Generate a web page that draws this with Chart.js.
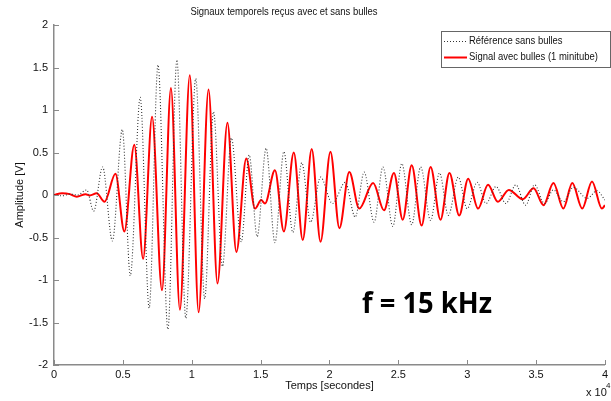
<!DOCTYPE html>
<html>
<head>
<meta charset="utf-8">
<script src="https://cdn.jsdelivr.net/npm/chart.js@4/dist/chart.umd.min.js"></script>
<style>
  html, body { margin: 0; padding: 0; background: #fff; }
  #wrap { width: 611px; height: 401px; }
</style>
</head>
<body>
<div id="wrap"><canvas id="chartSignaux" width="611" height="401"></canvas></div>
<script>
// Référence sans bulles : extrema (temps en x10^4)
var refX = [0, 0.058, 0.115, 0.173, 0.237, 0.288, 0.353, 0.424, 0.496, 0.554, 0.626, 0.691, 0.755, 0.827, 0.892, 0.957,
    1.029, 1.094, 1.158, 1.223, 1.288, 1.360, 1.417, 1.475, 1.540, 1.604, 1.669, 1.734, 1.799, 1.863, 1.935,
    2.022, 2.115, 2.187, 2.252, 2.324, 2.388, 2.460, 2.525, 2.597, 2.662, 2.734, 2.799, 2.863, 2.935,
    3.0, 3.072, 3.137, 3.209, 3.281, 3.353, 3.424, 3.489, 3.561, 3.626, 3.698, 3.770, 3.871, 3.942, 4.0];
var refY = [0, -0.01, 0.01, 0.0, 0.06, -0.19, 0.33, -0.54, 0.77, -0.95, 1.15, -1.33, 1.53, -1.58, 1.59, -1.45,
    1.37, -1.22, 0.98, -0.84, 0.67, -0.55, 0.47, -0.49, 0.55, -0.56, 0.51, -0.44, 0.38, -0.32, 0.21,
    -0.10, 0.15, -0.26, 0.27, -0.32, 0.33, -0.37, 0.37, -0.35, 0.33, -0.30, 0.26, -0.24, 0.21,
    -0.16, 0.15, -0.10, 0.10, -0.10, 0.12, -0.12, 0.12, -0.10, 0.06, -0.08, 0.09, -0.04, 0.05, -0.06];

// Signal avec bulles (1 minitube)
var sigX = [0, 0.058, 0.115, 0.165, 0.23, 0.26, 0.31, 0.367, 0.446, 0.511, 0.583, 0.647, 0.712, 0.784, 0.849, 0.914,
    0.986, 1.05, 1.122, 1.187, 1.259, 1.324, 1.396, 1.460, 1.504, 1.532, 1.604, 1.669, 1.741, 1.806, 1.871, 1.935,
    2.007, 2.072, 2.144, 2.216, 2.317, 2.396, 2.468, 2.532, 2.597, 2.669, 2.734, 2.806, 2.871, 2.942,
    3.007, 3.079, 3.151, 3.223, 3.302, 3.403, 3.482, 3.554, 3.626, 3.698, 3.763, 3.835, 3.906, 3.978, 4.0];
var sigY = [0, 0.02, 0.01, -0.02, 0.01, -0.005, 0.02, -0.08, 0.25, -0.43, 0.59, -0.75, 0.92, -1.12, 1.26, -1.35,
    1.41, -1.38, 1.24, -1.04, 0.85, -0.67, 0.43, -0.16, -0.06, -0.10, 0.29, -0.43, 0.50, -0.53, 0.54, -0.55,
    0.51, -0.39, 0.27, -0.16, 0.14, -0.18, 0.26, -0.29, 0.35, -0.36, 0.33, -0.29, 0.26, -0.24,
    0.19, -0.16, 0.12, -0.08, 0.06, -0.05, 0.08, -0.12, 0.14, -0.16, 0.14, -0.16, 0.16, -0.16, -0.12];

var labels = ["Référence sans bulles", "Signal avec bulles (1 minitube)"];
var titre = "Signaux temporels reçus avec et sans bulles";
var annotation = "f = 15 kHz";

var toPoints = function(xs, ys) {
    return xs.map(function(x, i) { return { x: x, y: ys[i] }; });
};

var axisGray = "#8a8a8a";
var font11 = { family: "'Liberation Sans', Arial, sans-serif", size: 11 };
// étiquettes façon MATLAB : 2, 1.5, 1 ... sans zéro final
var tickText = function(v) { return String(Math.round(v * 10) / 10); };

// textes, légende et graduations intérieures façon MATLAB
var decorPlugin = {
    id: "decor",
    afterDraw: function(chart) {
        var ctx = chart.ctx;
        var area = chart.chartArea;
        var sx = chart.scales.x, sy = chart.scales.y;
        ctx.save();

        // graduations vers l'intérieur
        ctx.strokeStyle = axisGray;
        ctx.lineWidth = 1;
        ctx.beginPath();
        sx.ticks.forEach(function(t) {
            var px = Math.round(sx.getPixelForValue(t.value)) + 0.5;
            ctx.moveTo(px, area.bottom);
            ctx.lineTo(px, area.bottom - 5);
        });
        sy.ticks.forEach(function(t) {
            var py = Math.round(sy.getPixelForValue(t.value)) + 0.5;
            ctx.moveTo(area.left, py);
            ctx.lineTo(area.left + 5, py);
        });
        ctx.stroke();

        // titre
        ctx.fillStyle = "#111";
        ctx.font = "11px 'Liberation Sans', Arial, sans-serif";
        ctx.textBaseline = "middle";
        ctx.textAlign = "center";
        ctx.save();
        ctx.translate(284, 12);
        ctx.scale(0.86, 1);
        ctx.fillText(titre, 0, 0);
        ctx.restore();

        // x 10^4
        ctx.textAlign = "left";
        ctx.fillText("x 10", 586, 393);
        ctx.font = "8px 'Liberation Sans', Arial, sans-serif";
        ctx.fillText("4", 606, 386);

        // légende
        var lx = 441, ly = 31, lw = 169, lh = 36;
        ctx.fillStyle = "#fff";
        ctx.fillRect(lx, ly, lw, lh);
        ctx.strokeStyle = "#666";
        ctx.lineWidth = 1;
        ctx.strokeRect(lx + 0.5, ly + 0.5, lw, lh);
        ctx.font = "11px 'Liberation Sans', Arial, sans-serif";
        ctx.fillStyle = "#111";
        chart.data.datasets.forEach(function(ds, i) {
            var yy = ly + 10 + i * 16;
            ctx.save();
            ctx.strokeStyle = ds.borderColor;
            ctx.lineWidth = ds.borderWidth;
            ctx.setLineDash(ds.borderDash || []);
            ctx.beginPath();
            ctx.moveTo(lx + 3, yy + 0.5);
            ctx.lineTo(lx + 26, yy + 0.5);
            ctx.stroke();
            ctx.restore();
            ctx.save();
            ctx.translate(lx + 28, yy);
            ctx.scale(0.86, 1);
            ctx.fillText(ds.label, 0, 0);
            ctx.restore();
        });

        // f = 15 kHz
        ctx.font = "bold 28px 'Open Sans', 'Noto Sans', sans-serif";
        ctx.fillStyle = "#000";
        ctx.textBaseline = "alphabetic";
        var w = ctx.measureText(annotation).width;
        ctx.translate(362, 313);
        ctx.scale(130 / w, 1);
        ctx.fillText(annotation, 0, 0);

        ctx.restore();
    }
};

var chartSignaux = new Chart(document.getElementById("chartSignaux").getContext("2d"), {
    type: "line",
    data: {
        datasets: [{
            label: labels[0],
            data: toPoints(refX, refY),
            borderColor: "#333",
            borderWidth: 1.1,
            borderDash: [1, 2],
            pointRadius: 0,
            cubicInterpolationMode: "monotone"
        }, {
            label: labels[1],
            data: toPoints(sigX, sigY),
            borderColor: "#ff0000",
            borderWidth: 2,
            pointRadius: 0,
            cubicInterpolationMode: "monotone"
        }]
    },
    options: {
        responsive: false,
        animation: false,
        layout: { padding: { top: 25, right: 3, left: 0, bottom: 0 } },
        plugins: {
            legend: { display: false },
            title: { display: false },
            tooltip: { enabled: false }
        },
        scales: {
            x: {
                type: "linear",
                min: 0,
                max: 4,
                afterFit: function(s) { s.height = 36; },
                border: { color: axisGray, width: 1.5 },
                grid: { display: false, drawTicks: false },
                ticks: { stepSize: 0.5, padding: 3, color: "#111", font: font11, maxRotation: 0, callback: tickText },
                title: { display: true, text: "Temps [secondes]", color: "#111", font: font11, padding: { top: 0, bottom: 8 } }
            },
            y: {
                min: -2,
                max: 2,
                afterFit: function(s) { s.width = 54; },
                border: { color: axisGray, width: 1.5 },
                grid: { display: false, drawTicks: false },
                ticks: { stepSize: 0.5, padding: 6, color: "#111", font: font11, callback: tickText },
                title: { display: true, text: "Amplitude [V]", color: "#111", font: font11, padding: { top: 13, bottom: 0 } }
            }
        }
    },
    plugins: [decorPlugin]
});
</script>
</body>
</html>
